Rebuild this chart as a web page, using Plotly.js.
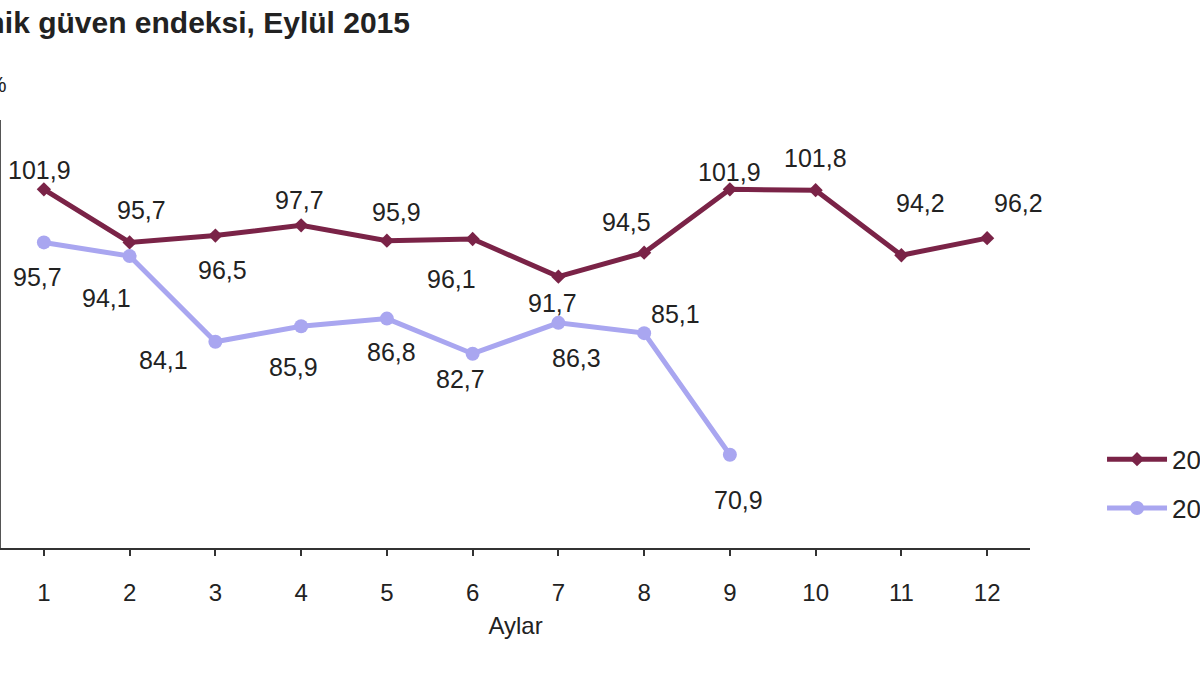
<!DOCTYPE html>
<html>
<head>
<meta charset="utf-8">
<script src="https://cdn.plot.ly/plotly-3.0.1.min.js"></script>
<style>html,body{margin:0;padding:0;background:#fff;overflow:hidden;width:1200px;height:675px}#chart{width:1290px;height:675px}</style>
</head>
<body>
<div id="chart"></div>
<script>
// ---- data ----
const months = [1, 2, 3, 4, 5, 6, 7, 8, 9, 10, 11, 12];
const tickLabels = ['1', '2', '3', '4', '5', '6', '7', '8', '9', '10', '11', '12'];
const series2014Name = '2014';
const series2015Name = '2015';
const values2014 = [101.9, 95.7, 96.5, 97.7, 95.9, 96.1, 91.7, 94.5, 101.9, 101.8, 94.2, 96.2];
const values2015 = [95.7, 94.1, 84.1, 85.9, 86.8, 82.7, 86.3, 85.1, 70.9];
const titleText = 'Ekonomik güven endeksi, Eylül 2015';
const xTitle = 'Aylar';
const yUnit = '%';

// ---- label offsets (pixels, style only) ----
const shift2014 = [[-4,19],[12,32],[7,-34],[-2,25],[10,29],[-21,-40],[-6,-26],[-18,31],[0,17],[0,32],[19,52],[31,35]];
const shift2015 = [[-6,-35],[-23,-42],[-52,-18],[-8,-41],[5,-33],[-12,-25],[18,-35],[31,19],[9,-45]];

const c2014 = '#7A2347';
const c2015 = '#A9A6F0';
const FONT = 'Liberation Sans, Arial, sans-serif';
const fmt = v => v.toFixed(1).replace('.', ',');

const annotations = [];
values2014.forEach((v, i) => annotations.push({
  x: months[i], y: v, xref: 'x', yref: 'y', text: fmt(v), showarrow: false,
  xshift: shift2014[i][0], yshift: shift2014[i][1], font: {family: FONT, size: 25, color: '#222'}
}));
values2015.forEach((v, i) => annotations.push({
  x: months[i], y: v, xref: 'x', yref: 'y', text: fmt(v), showarrow: false,
  xshift: shift2015[i][0], yshift: shift2015[i][1], font: {family: FONT, size: 25, color: '#222'}
}));
annotations.push({
  x: -0.004, y: 1.082, xref: 'paper', yref: 'paper', text: yUnit, showarrow: false,
  xanchor: 'center', yanchor: 'middle', font: {family: FONT, size: 22, color: '#222'}
});

const traces = [
  {
    x: months.slice(0, values2014.length), y: values2014, name: series2014Name,
    type: 'scatter', mode: 'lines+markers', legendgroup: 'a',
    line: {color: c2014, width: 5},
    marker: {color: c2014, size: 11, symbol: 'diamond'}
  },
  {
    x: months.slice(0, values2015.length), y: values2015, name: series2015Name,
    type: 'scatter', mode: 'lines+markers', legendgroup: 'b',
    line: {color: c2015, width: 5},
    marker: {color: c2015, size: 14, symbol: 'circle'}
  }
];

const layout = {
  width: 1290, height: 675,
  margin: {l: 1, r: 260, t: 120, b: 127, pad: 0},
  paper_bgcolor: '#fff', plot_bgcolor: '#fff',
  font: {family: FONT, size: 24, color: '#222'},
  title: {
    text: titleText, xref: 'container', yref: 'container',
    x: 410 / 1290, xanchor: 'right', y: 1 - 22 / 675, yanchor: 'middle',
    font: {family: FONT, size: 30, weight: 'bold', color: '#222'}
  },
  xaxis: {
    range: [0.5, 12.5], tickmode: 'array', tickvals: months, ticktext: tickLabels,
    showline: true, linecolor: '#333', linewidth: 2, ticks: 'outside', ticklen: 6, tickwidth: 2, tickcolor: '#333',
    showgrid: false, zeroline: false, ticklabelstandoff: 16,
    tickfont: {family: FONT, size: 24, color: '#222'},
    title: {text: xTitle, standoff: 12, font: {family: FONT, size: 24, color: '#222'}}
  },
  yaxis: {
    range: [60, 110], showline: true, linecolor: '#555', linewidth: 2,
    showgrid: false, zeroline: false, showticklabels: false, ticks: ''
  },
  showlegend: true,
  legend: {
    x: 1.07, xanchor: 'left', y: 0.15, yanchor: 'middle',
    traceorder: 'grouped', tracegroupgap: 12, itemwidth: 60,
    bgcolor: 'rgba(0,0,0,0)', font: {family: FONT, size: 26, color: '#222'}
  },
  annotations: annotations
};

Plotly.newPlot('chart', traces, layout, {displayModeBar: false, staticPlot: true});
</script>
</body>
</html>
